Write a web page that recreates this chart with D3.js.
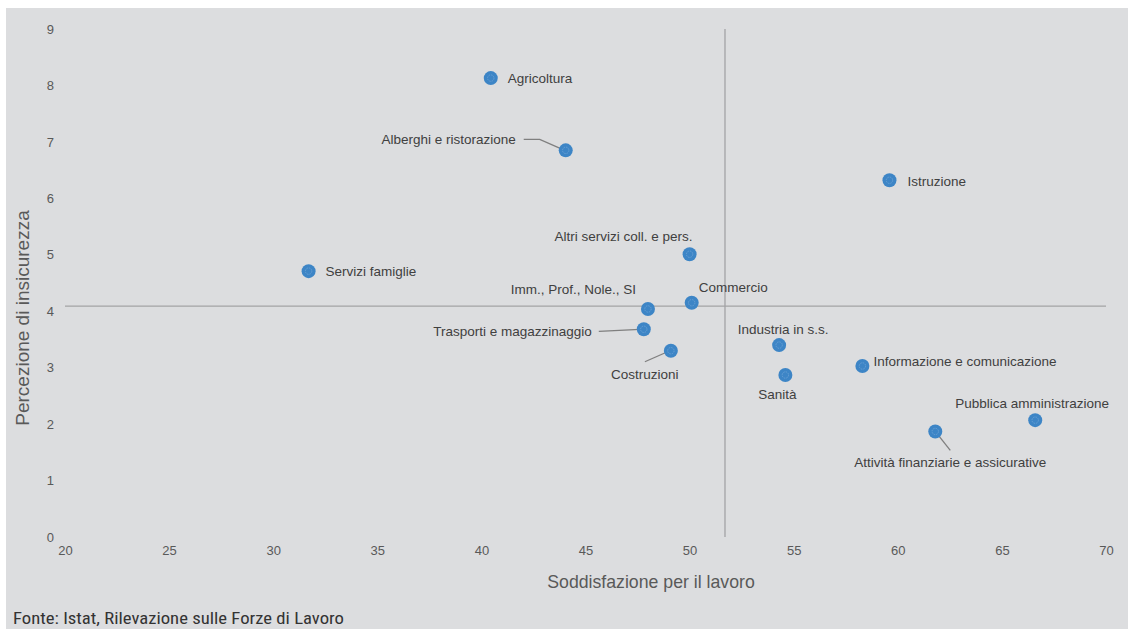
<!DOCTYPE html>
<html>
<head>
<meta charset="utf-8">
<script src="https://cdn.jsdelivr.net/npm/d3@7"></script>
<style>
  html, body { margin: 0; padding: 0; background: #fff; }
  svg { display: block; }
</style>
</head>
<body>
<svg width="1128" height="629"></svg>
<script>
// settori, soddisfazione (x) e percezione di insicurezza (y)
const sectors = ["Agricoltura", "Alberghi e ristorazione", "Istruzione", "Altri servizi coll. e pers.",
  "Servizi famiglie", "Commercio", "Imm., Prof., Nole., SI", "Trasporti e magazzinaggio",
  "Costruzioni", "Industria in s.s.", "Sanità", "Informazione e comunicazione",
  "Pubblica amministrazione", "Attività finanziarie e assicurative"];
const satisfaction = [40.45, 44.05, 59.6, 50.0, 31.7, 50.1, 48.0, 47.8, 49.1, 54.3, 54.6, 58.3, 66.6, 61.8];
const insecurity = [8.13, 6.85, 6.32, 5.01, 4.71, 4.15, 4.04, 3.68, 3.3, 3.4, 2.87, 3.03, 2.07, 1.87];
const xTicks = [20, 25, 30, 35, 40, 45, 50, 55, 60, 65, 70];
const yTicks = [0, 1, 2, 3, 4, 5, 6, 7, 8, 9];
const avgSatisfaction = 51.7;
const avgInsecurity = 4.09;

// label placement: offset from point, anchor, optional leader polyline (offsets)
const labelLayout = [
  {dx: 17, dy: 0, a: "start"},
  {dx: -50, dy: -11, a: "end", lead: [[-42, -11], [-26, -11], [-1, 0]]},
  {dx: 18, dy: 1, a: "start"},
  {dx: 3, dy: -18, a: "end"},
  {dx: 17, dy: 0, a: "start"},
  {dx: 7, dy: -15, a: "start"},
  {dx: -12, dy: -20, a: "end"},
  {dx: -52, dy: 2, a: "end", lead: [[-45, 2], [-4, 0]]},
  {dx: -26, dy: 24, a: "middle", lead: [[-26, 11], [-1, 0]]},
  {dx: 4, dy: -16, a: "middle"},
  {dx: -8, dy: 19, a: "middle"},
  {dx: 11, dy: -5, a: "start"},
  {dx: -3, dy: -17, a: "middle"},
  {dx: 15, dy: 31, a: "middle", lead: [[15, 19], [0, 0]]}
];

const svg = d3.select("svg");
const W = 1128, H = 629;

svg.append("rect").attr("x", 6).attr("y", 8).attr("width", W - 6).attr("height", H - 8)
  .attr("fill", "#dcdddf");

const x = d3.scaleLinear().domain([20, 70]).range([65, 1106]);
const y = d3.scaleLinear().domain([0, 9]).range([537, 29]);

const font = "'Liberation Sans', Arial, sans-serif";

// assi
const xAxis = svg.append("g").attr("transform", "translate(0,545)")
  .call(d3.axisBottom(x).tickValues(xTicks).tickSize(0).tickPadding(0));
xAxis.select(".domain").remove();
xAxis.selectAll("text").attr("font-family", font).attr("font-size", 13)
  .attr("fill", "#595959").attr("dy", "0.8em");

const yAxis = svg.append("g").attr("transform", "translate(54,0)")
  .call(d3.axisLeft(y).tickValues(yTicks).tickSize(0).tickPadding(0));
yAxis.select(".domain").remove();
yAxis.selectAll("text").attr("font-family", font).attr("font-size", 13)
  .attr("fill", "#595959");

// linee di riferimento
svg.append("line").attr("x1", x(20)).attr("x2", x(70))
  .attr("y1", y(avgInsecurity)).attr("y2", y(avgInsecurity))
  .attr("stroke", "#a3a3a5").attr("stroke-width", 1.3);
svg.append("line").attr("x1", x(avgSatisfaction)).attr("x2", x(avgSatisfaction))
  .attr("y1", y(9)).attr("y2", y(0))
  .attr("stroke", "#a3a3a5").attr("stroke-width", 1.3);

// titoli assi
svg.append("text").attr("x", 651).attr("y", 588)
  .attr("text-anchor", "middle").attr("font-family", font).attr("font-size", 17.7)
  .attr("fill", "#595959").text("Soddisfazione per il lavoro");
svg.append("text").attr("transform", `translate(29,${(y(0) + y(9)) / 2 + 35}) rotate(-90)`)
  .attr("text-anchor", "middle").attr("font-family", font).attr("font-size", 19)
  .attr("fill", "#595959").text("Percezione di insicurezza");

const data = sectors.map((s, i) => ({name: s, sx: satisfaction[i], iy: insecurity[i], l: labelLayout[i]}));

// linee guida
svg.append("g").selectAll("polyline").data(data.filter(d => d.l.lead)).join("polyline")
  .attr("points", d => d.l.lead.map(p => [x(d.sx) + p[0], y(d.iy) + p[1]].join(",")).join(" "))
  .attr("fill", "none").attr("stroke", "#7f7f7f").attr("stroke-width", 1.3);

// punti
const pts = svg.append("g").selectAll("g").data(data).join("g")
  .attr("transform", d => `translate(${x(d.sx)},${y(d.iy)})`);
pts.append("circle").attr("r", 7).attr("fill", "#3d85c6");
pts.append("circle").attr("r", 3.2).attr("fill", "none")
  .attr("stroke", "#6ea3d6").attr("stroke-width", 0.8).attr("stroke-dasharray", "1.5,1");

// etichette
svg.append("g").selectAll("text").data(data).join("text")
  .attr("x", d => x(d.sx) + d.l.dx).attr("y", d => y(d.iy) + d.l.dy)
  .attr("dy", "0.35em").attr("text-anchor", d => d.l.a)
  .attr("font-family", font).attr("font-size", 13.5).attr("fill", "#404040")
  .text(d => d.name);

// fonte
svg.append("text").attr("x", 13).attr("y", 624)
  .attr("font-family", "'Liberation Sans Narrow', 'Roboto Condensed', 'Arial Narrow', sans-serif")
  .attr("font-size", 17).attr("fill", "#333")
  .attr("textLength", 331).attr("lengthAdjust", "spacingAndGlyphs")
  .text("Fonte: Istat, Rilevazione sulle Forze di Lavoro");
</script>
</body>
</html>
